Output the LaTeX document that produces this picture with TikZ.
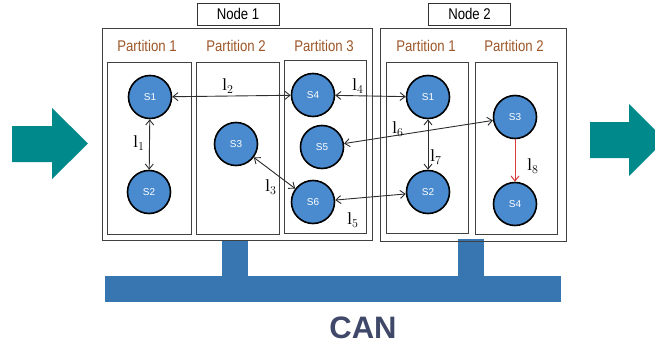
\documentclass[tikz,border=0pt]{standalone}
\usepackage{fontspec}
\setmainfont{Liberation Serif}
\newfontfamily\narrowsans[FakeStretch=0.85]{Liberation Sans}
\newfontfamily\plainsans{Liberation Sans}
\usetikzlibrary{arrows.meta}
\definecolor{teal1}{RGB}{0,137,138}
\definecolor{canblue}{RGB}{55,118,176}
\definecolor{cantext}{RGB}{64,72,105}
\definecolor{partbrown}{RGB}{156,86,40}
\definecolor{sblue}{RGB}{74,138,206}
\definecolor{linkgray}{RGB}{45,45,45}
\definecolor{redlink}{RGB}{220,60,60}
\tikzset{
  box/.style={draw=black!75, line width=0.9pt},
  state/.style={circle, draw=black, line width=1.6pt, fill=sblue, minimum size=43pt, inner sep=0pt,
    text=white, font=\plainsans\fontsize{10}{10}\selectfont},
  parttitle/.style={text=partbrown, font=\narrowsans\fontsize{15.5}{15.5}\selectfont, anchor=center},
  nodetitle/.style={draw=black!80, line width=0.9pt, minimum width=82pt, minimum height=22pt, inner sep=0pt,
    font=\narrowsans\fontsize{15.5}{15.5}\selectfont},
  link/.style={draw=linkgray, line width=0.9pt, {Straight Barb[length=5pt,width=8pt]}-{Straight Barb[length=5pt,width=8pt]}},
  redarrow/.style={draw=redlink, line width=1pt, -{Straight Barb[length=5pt,width=8pt]}},
  lab/.style={font=\fontsize{17}{17}\selectfont, inner sep=0pt},
  bigarrow/.style={fill=teal1, draw=none},
  bus/.style={fill=canblue, draw=none}
}
\begin{document}
\begin{tikzpicture}[x=1pt,y=-1pt]
\useasboundingbox (0,0) rectangle (655,345);
% teal arrows
\fill[bigarrow] (12,126) -- (52,126) -- (52,108) -- (88,143.5) -- (52,179) -- (52,162) -- (12,162) -- cycle;
\fill[bigarrow] (590,122) -- (629,122) -- (629,104) -- (665,140) -- (629,176) -- (629,158) -- (590,158) -- cycle;
% CAN bus
\fill[bus] (222,240) rectangle (248,277);
\fill[bus] (458,239) rectangle (484,277);
\fill[bus] (105,276) rectangle (561,302);
\node[font=\plainsans\bfseries\fontsize{31}{31}\selectfont, text=cantext] (can) at (363,328) {CAN};
% node boxes
\draw[box] (102,28) rectangle (372,240);
\draw[box] (380,28) rectangle (566,241);
\node[nodetitle] (n1) at (238,14) {Node 1};
\node[nodetitle] (n2) at (469.5,14) {Node 2};
% partitions
\draw[box] (107,62) rectangle (191,234);
\draw[box] (196,62) rectangle (279,234);
\draw[box] (284,60) rectangle (366,233);
\draw[box] (386,62) rectangle (468,233);
\draw[box] (475,62) rectangle (557,234);
\node[parttitle] (p11) at (147,46) {Partition 1};
\node[parttitle] (p12) at (236,46) {Partition 2};
\node[parttitle] (p13) at (324,46) {Partition 3};
\node[parttitle] (p21) at (426,46) {Partition 1};
\node[parttitle] (p22) at (514,46) {Partition 2};
% states
\node[state] (a1) at (150,97) {S1};
\node[state] (a2) at (149,192) {S2};
\node[state] (a3) at (236,144) {S3};
\node[state] (a4) at (313,95) {S4};
\node[state] (a5) at (322,147) {S5};
\node[state] (a6) at (313,202) {S6};
\node[state] (b1) at (428,97) {S1};
\node[state] (b2) at (428,192) {S2};
\node[state] (b3) at (515,117) {S3};
\node[state] (b4) at (515,204) {S4};
% links
\draw[link] (a1) -- (a2);
\draw[link] (a1) -- (a4);
\draw[link] (a3) -- (a6);
\draw[link] (a4) -- (b1);
\draw[link] (a6) -- (b2);
\draw[link] (a5) -- (b3);
\draw[link] (b1) -- (b2);
\draw[redarrow] (b3) -- (b4);
% labels
\node[lab] (l1) at (139,143) {$\mathrm{l}_1$};
\node[lab] (l2) at (228,86) {$\mathrm{l}_2$};
\node[lab] (l3) at (271,187) {$\mathrm{l}_3$};
\node[lab] (l4) at (358,86) {$\mathrm{l}_4$};
\node[lab] (l5) at (353,220) {$\mathrm{l}_5$};
\node[lab] (l6) at (398,129) {$\mathrm{l}_6$};
\node[lab] (l7) at (436,157) {$\mathrm{l}_7$};
\node[lab] (l8) at (533,166) {$\mathrm{l}_8$};
\end{tikzpicture}
\end{document}
